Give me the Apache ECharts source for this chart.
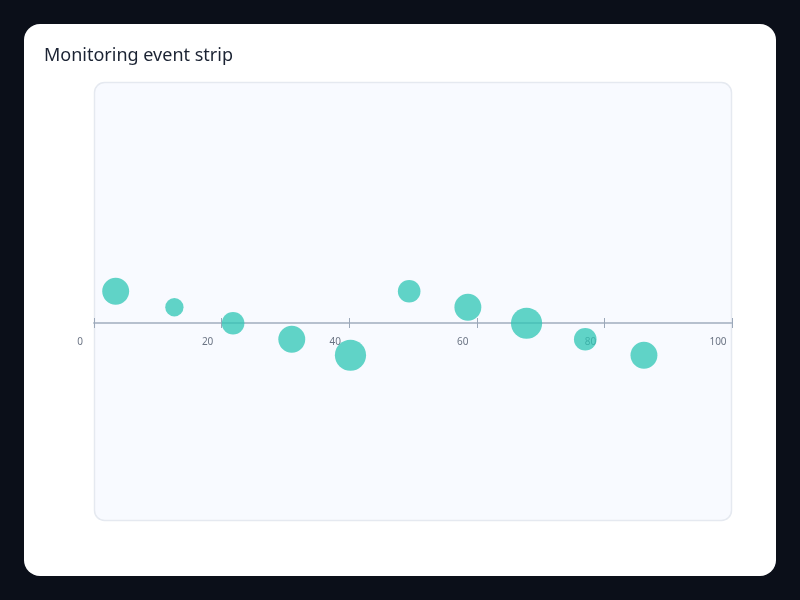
<!DOCTYPE html>
<html>
<head>
<meta charset="utf-8">
<script src="https://cdn.jsdelivr.net/npm/echarts@6/dist/echarts.min.js"></script>
<style>
html,body{margin:0;padding:0;background:#0b0f19;}
#chart{width:800px;height:600px;}
</style>
</head>
<body>
<div id="chart"></div>
<script>
// Data
var eventTimes = [3.4, 12.6, 21.8, 31.0, 40.2, 49.4, 58.6, 67.8, 77.0, 86.2];
var eventOffsets = [2, 1, 0, -1, -2, 2, 1, 0, -1, -2];
var eventSeverity = [3, 1, 2, 3, 4, 2, 3, 4, 2, 3];
var xTicks = [0, 20, 40, 60, 80, 100];

var points = eventTimes.map(function (t, i) {
  return [t, eventOffsets[i], eventSeverity[i]];
});

var Y_MIN = -12.36, Y_MAX = 15.08;
var GRID_TOP = 82, GRID_BOTTOM = 79, H = 600;
var gridH = H - GRID_TOP - GRID_BOTTOM;
// distance from grid bottom edge up to the zero line
var zeroOffset = -Math.round((0 - Y_MIN) / (Y_MAX - Y_MIN) * gridH);

var chart = echarts.init(document.getElementById('chart'), null, {renderer: 'canvas'});
var option = {
  backgroundColor: '#0b0f19',
  animation: false,
  textStyle: {fontFamily: 'Noto Sans'},
  title: {
    text: 'Monitoring event strip',
    left: 44, top: 47, padding: 0,
    textStyle: {fontFamily: 'Noto Sans', fontSize: 18, fontWeight: 'normal', color: '#1b2333'}
  },
  graphic: [
    {type: 'rect', z: -10, shape: {x: 24, y: 24, width: 752, height: 552, r: 16}, style: {fill: '#ffffff'}},
    {type: 'rect', z: -9, shape: {x: 94.5, y: 82.5, width: 637, height: 438, r: 10}, style: {fill: '#f8faff', stroke: '#e5e9f0', lineWidth: 1.5}}
  ],
  grid: {left: 94, right: 68, top: GRID_TOP, bottom: GRID_BOTTOM},
  xAxis: [
    {
      type: 'value', min: 0, max: 100, interval: 20, position: 'bottom', offset: zeroOffset,
      axisLine: {show: true, onZero: false, lineStyle: {color: '#b6c0ce', width: 2}},
      axisTick: {show: true, inside: true, length: 5, lineStyle: {color: '#9ba8b9', width: 1}},
      axisLabel: {
        show: true, color: '#6b7484', fontSize: 10, margin: 14,
        padding: [0, 28, 0, 0],
        formatter: function (v) { return xTicks.indexOf(v) >= 0 ? String(v) : ''; }
      },
      splitLine: {show: false}
    },
    {
      type: 'value', min: 0, max: 100, interval: 20, position: 'bottom', offset: zeroOffset,
      axisLine: {show: false, onZero: false},
      axisTick: {show: true, inside: false, length: 5, lineStyle: {color: '#9ba8b9', width: 1}},
      axisLabel: {show: false},
      splitLine: {show: false}
    }
  ],
  yAxis: [
    {type: 'value', min: Y_MIN, max: Y_MAX, show: false, splitLine: {show: false}}
  ],
  series: [{
    type: 'scatter',
    xAxisIndex: 0, yAxisIndex: 0,
    data: points,
    symbolSize: function (d) { return 14 + 4.3 * d[2]; },
    itemStyle: {color: 'rgba(46,198,180,0.75)', opacity: 1}
  }]
};
chart.setOption(option);
</script>
</body>
</html>
